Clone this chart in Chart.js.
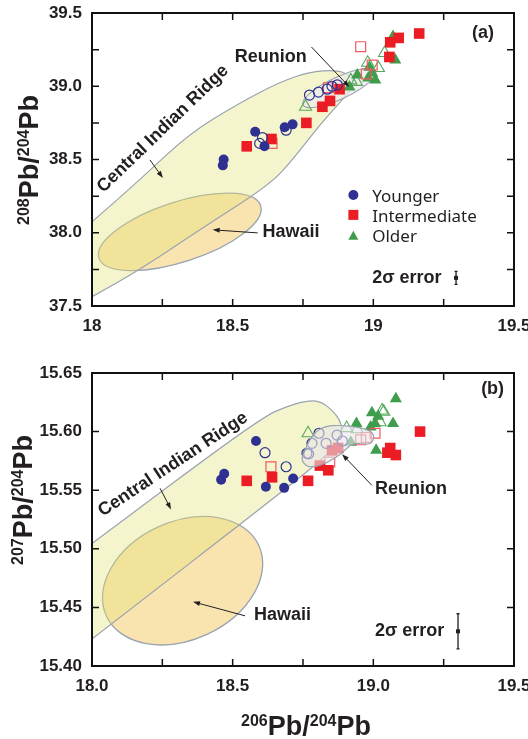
<!DOCTYPE html>
<html>
<head>
<meta charset="utf-8">
<script src="https://cdn.jsdelivr.net/npm/chart.js@4.4.1/dist/chart.umd.min.js"></script>
<style>
  html, body { margin: 0; padding: 0; background: #fff; }
  #wrap { position: relative; width: 528px; height: 739px; }
  .panel { position: absolute; left: 0; width: 528px; }
  #panelA { top: 0; height: 340px; }
  #panelB { top: 340px; height: 399px; }
</style>
</head>
<body>
<div id="wrap">
  <div class="panel" id="panelA"><canvas id="chartA" width="528" height="340"></canvas></div>
  <div class="panel" id="panelB"><canvas id="chartB" width="528" height="399"></canvas></div>
</div>
<script>
// ---- data: [206Pb/204Pb, 208Pb/204Pb] (panel a) ----
const youngerA = [[18.465,38.46],[18.468,38.50],[18.58,38.69],[18.613,38.59],[18.685,38.72],[18.713,38.74]];
const youngerOpenA = [[18.606,38.65],[18.596,38.61],[18.69,38.70],[18.773,38.94],[18.805,38.96],[18.836,38.98],[18.853,39.0],[18.872,39.01]];
const interA = [[18.55,38.59],[18.638,38.64],[18.762,38.75],[18.819,38.86],[18.846,38.90],[18.88,38.98],[19.057,39.2],[19.06,39.30],[19.09,39.33],[19.163,39.36]];
const interOpenA = [[18.64,38.61],[18.955,39.27],[18.996,39.145],[18.975,39.084],[18.84,38.99]];
const olderA = [[18.915,38.995],[18.943,39.077],[18.986,39.13],[18.982,39.056],[19.007,39.043],[18.996,39.09],[19.07,39.34],[19.078,39.18]];
const olderOpenA = [[18.759,38.86],[18.92,39.04],[18.94,39.03],[18.98,39.16],[19.018,39.125],[19.04,39.227]];

// ---- data: [206Pb/204Pb, 207Pb/204Pb] (panel b) ----
const youngerB = [[18.459,15.559],[18.47,15.564],[18.583,15.592],[18.618,15.553],[18.683,15.552],[18.715,15.560]];
const youngerOpenB = [[18.615,15.582],[18.69,15.570],[18.764,15.5815],[18.77,15.581],[18.782,15.590],[18.807,15.5986],[18.832,15.590],[18.871,15.597],[18.89,15.592]];
const interB = [[18.55,15.558],[18.64,15.561],[18.768,15.558],[18.81,15.571],[18.84,15.567],[18.853,15.584],[18.875,15.586],[19.05,15.582],[19.06,15.586],[19.08,15.58],[19.166,15.600]];
const interOpenB = [[18.636,15.570],[18.845,15.574],[18.955,15.593],[18.975,15.595],[19.006,15.5986]];
const olderB = [[18.92,15.591],[18.94,15.607],[18.99,15.604],[18.995,15.616],[19.006,15.607],[19.017,15.613],[19.01,15.584],[19.07,15.607],[19.08,15.628]];
const olderOpenB = [[18.768,15.5986],[18.905,15.603],[18.942,15.602],[19.031,15.618],[19.037,15.617],[19.024,15.608]];

// ---- field outlines (data units) ----
const cirA = [[17.9,37.911],[18.0,38.074],[18.17,38.361],[18.348,38.681],[18.525,38.886],[18.667,39.029],[18.773,39.098],[18.869,39.111],[18.915,39.077],[18.933,39.029],[18.915,38.961],[18.809,38.736],[18.713,38.497],[18.631,38.327],[18.383,38.02],[18.17,37.747],[18.0,37.563],[17.9,37.454]];
const cirB = [[17.9,15.4865],[18.0,15.5045],[18.597,15.6115],[18.704,15.6226],[18.775,15.6269],[18.818,15.6252],[18.853,15.6183],[18.882,15.6098],[18.889,15.6012],[18.875,15.5926],[18.846,15.5824],[18.715,15.5558],[18.0,15.4232],[17.9,15.4043]];
const reunionB = [[18.747,15.5798],[18.786,15.5986],[18.828,15.6046],[18.882,15.6055],[18.942,15.6038],[18.988,15.6012],[19.006,15.5952],[18.988,15.5884],[18.928,15.5909],[18.889,15.5815],[18.835,15.573],[18.775,15.5687],[18.747,15.5738]];
const hawaiiA = { x: 18.312, y: 38.006 };
const reunionA = { x: 18.879, y: 38.988 };
const hawaiiB = { x: 18.322, y: 15.4728 };

const seriesNames = ['Younger', 'Intermediate', 'Older'];
const xTicksA = [18, 18.5, 19, 19.5];

const NAVY = '#2e3192', RED = '#ec1c24', GREEN = '#3f9d4c';
const FONT = '"Liberation Sans", Arial, sans-serif';
const INK = '#231f20';

const pairs = arr => arr.map(p => ({ x: p[0], y: p[1] }));
const isHalf = v => Math.abs(v * 2 - Math.round(v * 2)) < 1e-6;

function makeDatasets(yf, yo, inf, ino, of, oo) {
	return [
		{ data: pairs(yf), pointStyle: 'circle', pointRadius: 5, backgroundColor: NAVY, borderColor: NAVY, borderWidth: 0 },
		{ data: pairs(yo), pointStyle: 'circle', pointRadius: 5, backgroundColor: 'rgba(0,0,0,0)', borderColor: NAVY, borderWidth: 1.2 },
		{ data: pairs(inf), pointStyle: 'rect', pointRadius: 7.5, backgroundColor: RED, borderColor: RED, borderWidth: 0 },
		{ data: pairs(ino), pointStyle: 'rect', pointRadius: 7, backgroundColor: 'rgba(0,0,0,0)', borderColor: '#ef5a60', borderWidth: 1.2 },
		{ data: pairs(of), pointStyle: 'triangle', pointRadius: 7, backgroundColor: GREEN, borderColor: GREEN, borderWidth: 0 },
		{ data: pairs(oo), pointStyle: 'triangle', pointRadius: 7, backgroundColor: 'rgba(0,0,0,0)', borderColor: '#55a85a', borderWidth: 1.1 }
	];
}

function smoothPath(ctx, pts) {
	const n = pts.length;
	const mid = (a, b) => [(a[0] + b[0]) / 2, (a[1] + b[1]) / 2];
	const m = mid(pts[n - 1], pts[0]);
	ctx.beginPath();
	ctx.moveTo(m[0], m[1]);
	for (let i = 0; i < n; i++) {
		const q = mid(pts[i], pts[(i + 1) % n]);
		ctx.quadraticCurveTo(pts[i][0], pts[i][1], q[0], q[1]);
	}
	ctx.closePath();
}

function arrow(ctx, x1, y1, x2, y2) {
	const a = Math.atan2(y2 - y1, x2 - x1);
	ctx.save();
	ctx.strokeStyle = INK; ctx.fillStyle = INK; ctx.lineWidth = 1;
	ctx.beginPath(); ctx.moveTo(x1, y1); ctx.lineTo(x2 - 5 * Math.cos(a), y2 - 5 * Math.sin(a)); ctx.stroke();
	ctx.translate(x2, y2); ctx.rotate(a);
	ctx.beginPath(); ctx.moveTo(0, 0); ctx.lineTo(-7, -2.5); ctx.lineTo(-7, 2.5); ctx.closePath(); ctx.fill();
	ctx.restore();
}

function isoLabel(ctx, cx, cy, angle, a, b) {
	const big = 'bold 27px ' + FONT, small = 'bold 16px ' + FONT;
	const parts = [[a, small, -9], ['Pb/', big, 0], [b, small, -9], ['Pb', big, 0]];
	ctx.save();
	ctx.translate(cx, cy); ctx.rotate(angle);
	let w = 0;
	const widths = parts.map(p => { ctx.font = p[1]; const m = ctx.measureText(p[0]).width; w += m; return m; });
	let x = -w / 2;
	ctx.fillStyle = INK; ctx.textBaseline = 'alphabetic';
	parts.forEach((p, i) => { ctx.font = p[1]; ctx.fillText(p[0], x, 10 + p[2]); x += widths[i]; });
	ctx.restore();
}

function errorBar(ctx, x, y1, y2) {
	ctx.save();
	ctx.strokeStyle = INK; ctx.fillStyle = INK; ctx.lineWidth = 1.3;
	ctx.beginPath(); ctx.moveTo(x, y1); ctx.lineTo(x, y2);
	ctx.moveTo(x - 1.5, y1); ctx.lineTo(x + 1.5, y1);
	ctx.moveTo(x - 1.5, y2); ctx.lineTo(x + 1.5, y2); ctx.stroke();
	ctx.fillRect(x - 2, (y1 + y2) / 2 - 2, 4, 4);
	ctx.restore();
}

function makeGeoPlugin(cfg) {
	return {
		id: 'geo' + cfg.name,
		beforeDatasetsDraw(chart) {
			const { ctx, chartArea: ca, scales: { x, y } } = chart;
			const P = p => [x.getPixelForValue(p[0]), y.getPixelForValue(p[1])];
			ctx.save();
			ctx.beginPath(); ctx.rect(ca.left, ca.top, ca.right - ca.left, ca.bottom - ca.top); ctx.clip();
			// Hawaii
			const h = cfg.hawaii;
			ctx.beginPath();
			ctx.ellipse(x.getPixelForValue(h.x), y.getPixelForValue(h.y), cfg.hawaiiR[0], cfg.hawaiiR[1], cfg.hawaiiR[2] * Math.PI / 180, 0, Math.PI * 2);
			ctx.fillStyle = 'rgb(249,228,176)'; ctx.fill();
			ctx.strokeStyle = '#9aa3b0'; ctx.lineWidth = 1.3; ctx.stroke();
			// Central Indian Ridge
			smoothPath(ctx, cfg.cir.map(P));
			ctx.fillStyle = 'rgba(226,226,112,0.35)'; ctx.fill();
			ctx.strokeStyle = '#9aa3b0'; ctx.lineWidth = 1.2; ctx.stroke();
			// Reunion (panel a: behind points)
			if (cfg.reunionEllipse) {
				const r = cfg.reunionEllipse;
				ctx.beginPath();
				ctx.ellipse(x.getPixelForValue(r.x), y.getPixelForValue(r.y), cfg.reunionR[0], cfg.reunionR[1], cfg.reunionR[2] * Math.PI / 180, 0, Math.PI * 2);
				ctx.fillStyle = 'rgba(236,233,236,0.75)'; ctx.fill();
				ctx.strokeStyle = '#9aa3b0'; ctx.lineWidth = 1.2; ctx.stroke();
			}
			ctx.restore();
		},
		afterDatasetsDraw(chart) {
			const { ctx, chartArea: ca, scales: { x, y } } = chart;
			const P = p => [x.getPixelForValue(p[0]), y.getPixelForValue(p[1])];
			if (cfg.reunionPoly) {
				ctx.save();
				smoothPath(ctx, cfg.reunionPoly.map(P));
				ctx.fillStyle = 'rgba(232,228,232,0.6)'; ctx.fill();
				ctx.strokeStyle = '#9aa3b0'; ctx.lineWidth = 1.2; ctx.stroke();
				ctx.restore();
			}
			// frame + inward ticks
			ctx.save();
			ctx.strokeStyle = '#111'; ctx.lineWidth = 2;
			ctx.strokeRect(ca.left, ca.top, ca.right - ca.left, ca.bottom - ca.top);
			ctx.lineWidth = 1.5;
			ctx.beginPath();
			x.ticks.forEach(t => {
				const px = x.getPixelForValue(t.value);
				ctx.moveTo(px, ca.bottom); ctx.lineTo(px, ca.bottom - 7);
				ctx.moveTo(px, ca.top); ctx.lineTo(px, ca.top + 7);
			});
			y.ticks.forEach(t => {
				const py = y.getPixelForValue(t.value);
				ctx.moveTo(ca.left, py); ctx.lineTo(ca.left + 7, py);
				ctx.moveTo(ca.right, py); ctx.lineTo(ca.right - 7, py);
			});
			ctx.stroke();
			ctx.restore();

			// annotations
			ctx.save();
			ctx.fillStyle = INK;
			ctx.font = 'bold 18px ' + FONT;
			ctx.textBaseline = 'middle';
			cfg.labels.forEach(l => {
				const p = P(l.at);
				ctx.save();
				ctx.translate(p[0], p[1]);
				ctx.rotate((l.rot || 0) * Math.PI / 180);
				ctx.textAlign = l.align || 'left';
				ctx.fillText(l.text, 0, 0);
				ctx.restore();
			});
			cfg.arrows.forEach(a => {
				const p = P(a[0]), q = P(a[1]);
				arrow(ctx, p[0], p[1], q[0], q[1]);
			});
			const e = cfg.err;
			errorBar(ctx, x.getPixelForValue(e[0]), y.getPixelForValue(e[1]), y.getPixelForValue(e[2]));
			ctx.restore();

			// legend (panel a)
			if (cfg.legend) {
				ctx.save();
				const lg = cfg.legend;
				const mx = x.getPixelForValue(lg.markX), tx = x.getPixelForValue(lg.textX);
				ctx.font = '17px "Noto Sans", sans-serif';
				ctx.textBaseline = 'middle'; ctx.textAlign = 'left';
				seriesNames.forEach((name, i) => {
					const my = y.getPixelForValue(lg.markY[i]);
					const ty = y.getPixelForValue(lg.textY[i]);
					if (i === 0) { ctx.fillStyle = NAVY; ctx.beginPath(); ctx.arc(mx, my, 5, 0, Math.PI * 2); ctx.fill(); }
					if (i === 1) { ctx.fillStyle = RED; ctx.fillRect(mx - 5, my - 5, 10, 10); }
					if (i === 2) { ctx.fillStyle = GREEN; ctx.beginPath(); ctx.moveTo(mx, my - 5); ctx.lineTo(mx + 5, my + 4); ctx.lineTo(mx - 5, my + 4); ctx.closePath(); ctx.fill(); }
					ctx.fillStyle = INK;
					ctx.fillText(name, tx, ty);
				});
				ctx.restore();
			}

			// axis titles
			isoLabel(ctx, cfg.yTitle[0], cfg.yTitle[1], -Math.PI / 2, cfg.yTitle[2], '204');
			if (cfg.xTitle) isoLabel(ctx, cfg.xTitle[0], cfg.xTitle[1], 0, '206', '204');
		}
	};
}

function scaleOpts(min, max, step, fmt, fitFn) {
	return {
		type: 'linear', min, max,
		grid: { display: false, drawTicks: false },
		border: { display: false },
		afterFit: fitFn,
		ticks: {
			stepSize: step, autoSkip: false, maxRotation: 0, padding: 10,
			color: INK, font: { family: FONT, size: 17, weight: 'bold' },
			callback: fmt
		}
	};
}

Chart.defaults.animation = false;

new Chart(document.getElementById('chartA'), {
	type: 'scatter',
	data: { datasets: makeDatasets(youngerA, youngerOpenA, interA, interOpenA, olderA, olderOpenA) },
	options: {
		responsive: false, devicePixelRatio: 1, events: [],
		layout: { padding: { top: 13, right: 14, left: 0, bottom: 0 } },
		plugins: { legend: { display: false }, tooltip: { enabled: false } },
		scales: {
			x: scaleOpts(18, 19.5, 0.25, v => xTicksA.some(t => Math.abs(t - v) < 1e-6) ? String(v) : '',
				s => { s.height = 34; s.paddingLeft = 0; s.paddingRight = 0; }),
			y: scaleOpts(37.5, 39.5, 0.25, v => isHalf(v) ? v.toFixed(1) : '',
				s => { s.width = 92; s.paddingTop = 0; s.paddingBottom = 0; })
		}
	},
	plugins: [makeGeoPlugin({
		name: 'A',
		cir: cirA,
		hawaii: hawaiiA, hawaiiR: [85, 30, -18],
		reunionEllipse: reunionA, reunionR: [40, 11, -25],
		labels: [
			{ text: 'Reunion', at: [18.635, 39.20], align: 'center' },
			{ text: 'Hawaii', at: [18.606, 38.006] },
			{ text: 'Central Indian Ridge', at: [18.252, 38.709], align: 'center', rot: -44 },
			{ text: '(a)', at: [19.39, 39.364], align: 'center' },
			{ text: '2\u03c3 error', at: [18.996, 37.692] }
		],
		arrows: [
			[[18.206, 38.497], [18.252, 38.374]],
			[[18.78, 39.268], [18.915, 38.995]],
			[[18.589, 37.999], [18.429, 38.02]]
		],
		err: [19.294, 37.737, 37.647],
		legend: { markX: 18.929, textX: 18.996, markY: [38.258, 38.122, 37.979], textY: [38.245, 38.108, 37.972] },
		yTitle: [28, 160, '208']
	})]
});

new Chart(document.getElementById('chartB'), {
	type: 'scatter',
	data: { datasets: makeDatasets(youngerB, youngerOpenB, interB, interOpenB, olderB, olderOpenB) },
	options: {
		responsive: false, devicePixelRatio: 1, events: [],
		layout: { padding: { top: 33, right: 14, left: 0, bottom: 0 } },
		plugins: { legend: { display: false }, tooltip: { enabled: false } },
		scales: {
			x: scaleOpts(18, 19.5, 0.25, v => isHalf(v) ? v.toFixed(1) : '',
				s => { s.height = 73; s.paddingLeft = 0; s.paddingRight = 0; }),
			y: scaleOpts(15.4, 15.65, 0.05, v => v.toFixed(2),
				s => { s.width = 92; s.paddingTop = 0; s.paddingBottom = 0; })
		}
	},
	plugins: [makeGeoPlugin({
		name: 'B',
		cir: cirB,
		hawaii: hawaiiB, hawaiiR: [84, 59, -25],
		reunionPoly: reunionB,
		labels: [
			{ text: 'Reunion', at: [19.006, 15.5507] },
			{ text: 'Hawaii', at: [18.576, 15.4437] },
			{ text: 'Central Indian Ridge', at: [18.288, 15.572], align: 'center', rot: -33.5 },
			{ text: '(b)', at: [19.424, 15.6363], align: 'center' },
			{ text: '2\u03c3 error', at: [19.006, 15.430] }
		],
		arrows: [
			[[18.242, 15.5516], [18.281, 15.5336]],
			[[18.995, 15.5541], [18.889, 15.5807]],
			[[18.544, 15.4428], [18.359, 15.4548]]
		],
		err: [19.301, 15.4446, 15.4146],
		yTitle: [22, 160, '207'],
		xTitle: [306, 385, '206']
	})]
});
</script>
</body>
</html>
